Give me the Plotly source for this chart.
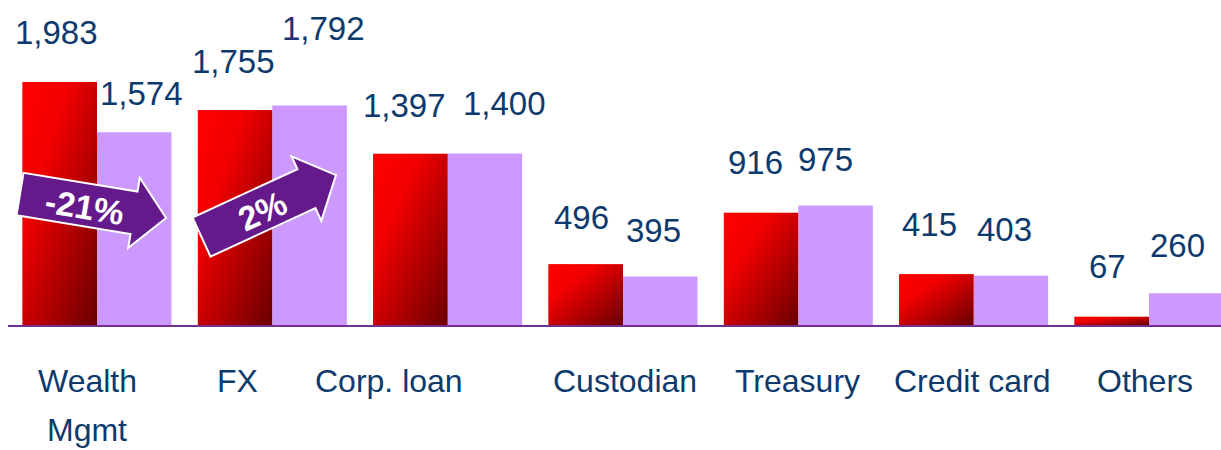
import base64
import math
import plotly.graph_objects as go

# ---- data -------------------------------------------------------------
categories = ["Wealth\nMgmt", "FX", "Corp. loan", "Custodian", "Treasury", "Credit card", "Others"]
prior = [1983, 1755, 1397, 496, 916, 415, 67]
current = [1574, 1792, 1400, 395, 975, 403, 260]
change_labels = ["-21%", "2%"]

# value-label nudges (pixels) for readability
prior_dx = [-3, -2, -6, -4, -6, -7, -4]
prior_dy = [50, 49, 48, 47, 50, 50, 50]
current_dx = [7, 14, 20, -7, -10, -6, -9]
current_dy = [39, 77, 50, 46, 46, 46, 48]
category_dx = [-10, -35, -59, 2, -1, -1, -4]

# ---- geometry ---------------------------------------------------------
W, H = 1221, 450
ML, MR, MT, MB = 8, 0, 0, 125
PW, PH = W - ML - MR, H - MT - MB
X_RANGE = [-0.5076, 6.4107]
Y_RANGE = [0, 2653]
BAR_W = 0.425

NAVY = "#0D3A6E"
RED = "#E80000"
LAVENDER = "#CC99FF"
PURPLE = "#651A8B"
AXIS = "#74308F"


def data_to_px(x, y):
    px = ML + (x - X_RANGE[0]) / (X_RANGE[1] - X_RANGE[0]) * PW
    py = MT + PH - (y - Y_RANGE[0]) / (Y_RANGE[1] - Y_RANGE[0]) * PH
    return px, py


def px_to_paper(px, py):
    return (px - ML) / PW, (MT + PH - py) / PH


# red bars carry a diagonal bright-to-dark gradient
grad_svg = (
    '<svg xmlns="http://www.w3.org/2000/svg" width="100" height="100" '
    'viewBox="0 0 100 100" preserveAspectRatio="none">'
    '<defs><linearGradient id="g" x1="0" y1="0" x2="1" y2="1">'
    '<stop offset="0" stop-color="#ff0000"/>'
    '<stop offset="0.3" stop-color="#f40000"/>'
    '<stop offset="1" stop-color="#690000"/>'
    '</linearGradient></defs>'
    '<rect width="100" height="100" fill="url(#g)"/></svg>'
)
grad_src = "data:image/svg+xml;base64," + base64.b64encode(grad_svg.encode()).decode()

xs = list(range(len(categories)))

fig = go.Figure()
fig.add_trace(go.Bar(x=xs, y=prior, marker=dict(color=RED, line=dict(width=0)),
                     name="Prior", hoverinfo="y"))
fig.add_trace(go.Bar(x=xs, y=current, marker=dict(color=LAVENDER, line=dict(width=0)),
                     name="Current", hoverinfo="y"))

images = []
for i, v in enumerate(prior):
    images.append(dict(source=grad_src, xref="x", yref="y", x=i - BAR_W, y=v,
                       sizex=BAR_W, sizey=v, xanchor="left", yanchor="top",
                       sizing="stretch", layer="above"))

annotations = []
num_font = dict(family="Liberation Sans, Arial", size=33, color=NAVY)
for i, v in enumerate(prior):
    annotations.append(dict(x=i - BAR_W / 2, y=v, xref="x", yref="y", text=f"{v:,}",
                            showarrow=False, xanchor="center", yanchor="middle",
                            xshift=prior_dx[i], yshift=prior_dy[i], font=num_font))
for i, v in enumerate(current):
    annotations.append(dict(x=i + BAR_W / 2, y=v, xref="x", yref="y", text=f"{v:,}",
                            showarrow=False, xanchor="center", yanchor="middle",
                            xshift=current_dx[i], yshift=current_dy[i], font=num_font))

cat_font = dict(family="Liberation Sans, Arial", size=32, color=NAVY)
for i, name in enumerate(categories):
    for k, line in enumerate(name.split("\n")):
        annotations.append(dict(x=i, y=0, xref="x", yref="paper", text=line,
                                showarrow=False, xanchor="center", yanchor="middle",
                                xshift=category_dx[i], yshift=-56 - 49 * k,
                                font=cat_font))

# change callout arrows, anchored in data units
arrows = [
    ((-0.439, 1069), (0.394, 873)),
    ((0.596, 718), (1.363, 1224)),
]
SHAFT, HEAD, HEAD_LEN = 21.5, 35.5, 32.5
shapes = []
for (tail, tip), label in zip(arrows, change_labels):
    tx, ty = data_to_px(*tail)
    hx, hy = data_to_px(*tip)
    L = math.hypot(hx - tx, hy - ty)
    ux, uy = (hx - tx) / L, (hy - ty) / L
    nx, ny = -uy, ux
    bx, by = hx - ux * HEAD_LEN, hy - uy * HEAD_LEN
    pts = [
        (tx + nx * SHAFT, ty + ny * SHAFT),
        (bx + nx * SHAFT, by + ny * SHAFT),
        (bx + nx * HEAD, by + ny * HEAD),
        (hx, hy),
        (bx - nx * HEAD, by - ny * HEAD),
        (bx - nx * SHAFT, by - ny * SHAFT),
        (tx - nx * SHAFT, ty - ny * SHAFT),
    ]
    pp = [px_to_paper(*p) for p in pts]
    path = "M " + " L ".join(f"{a:.5f},{b:.5f}" for a, b in pp) + " Z"
    shapes.append(dict(type="path", xref="paper", yref="paper", path=path,
                       fillcolor=PURPLE, line=dict(color="white", width=2), layer="above"))
    cx, cy = tx + ux * 66 + nx * 2, ty + uy * 66 + ny * 2
    ax, ay = px_to_paper(cx, cy)
    angle = math.degrees(math.atan2(uy, ux))
    annotations.append(dict(x=ax, y=ay, xref="paper", yref="paper", text=f"<b>{label}</b>",
                            showarrow=False, xanchor="center", yanchor="middle",
                            textangle=angle,
                            font=dict(family="Liberation Sans, Arial", size=34, color="white")))

fig.update_layout(
    width=W, height=H,
    margin=dict(l=ML, r=MR, t=MT, b=MB, pad=0),
    paper_bgcolor="white", plot_bgcolor="white",
    barmode="group", bargap=0.15, bargroupgap=0,
    showlegend=False,
    xaxis=dict(range=X_RANGE, showticklabels=False, showgrid=False, zeroline=False,
               showline=True, linecolor=AXIS, linewidth=1.5, ticks="", fixedrange=True),
    yaxis=dict(range=Y_RANGE, visible=False, fixedrange=True),
    images=images,
    annotations=annotations,
    shapes=shapes,
)

fig.write_html("out.html", config={"displayModeBar": False})
